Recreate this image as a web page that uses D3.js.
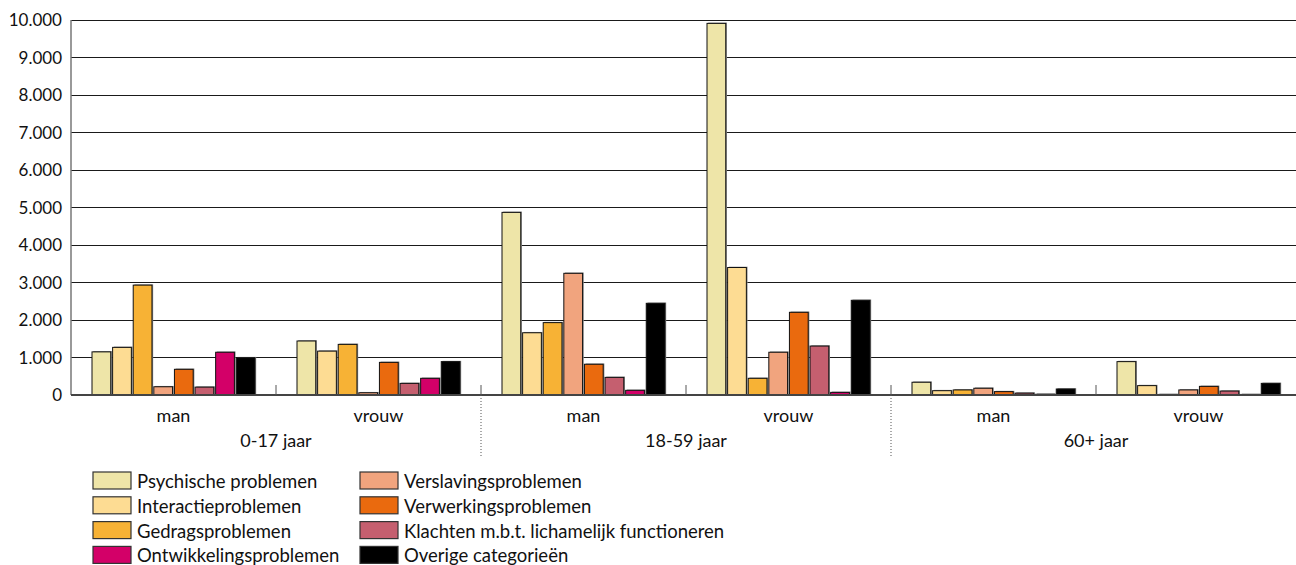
<!DOCTYPE html>
<html><head><meta charset="utf-8">
<script src="https://cdn.jsdelivr.net/npm/d3@7"></script>
<style>body{margin:0;background:#fff}svg{display:block}text{font-family:Lato,sans-serif;fill:#111}</style>
</head><body><svg id="c" width="1296" height="565"></svg>
<script>
const ageGroups = ["0-17 jaar","18-59 jaar","60+ jaar"];
const sexes = ["man","vrouw"];
const series = ["Psychische problemen","Interactieproblemen","Gedragsproblemen","Verslavingsproblemen","Verwerkingsproblemen","Klachten m.b.t. lichamelijk functioneren","Ontwikkelingsproblemen","Overige categorieën"];
const colors = ["#EEE5A8","#FDDC93","#F7B235","#F1A47E","#EA6A0E","#C55F6F","#D30068","#000000"];
const legendOrder = ["Psychische problemen","Interactieproblemen","Gedragsproblemen","Ontwikkelingsproblemen","Verslavingsproblemen","Verwerkingsproblemen","Klachten m.b.t. lichamelijk functioneren","Overige categorieën"];
// values per series, in order: 0-17 man, 0-17 vrouw, 18-59 man, 18-59 vrouw, 60+ man, 60+ vrouw
const psychische    = [1150, 1440, 4870, 9910, 340, 890];
const interactie    = [1270, 1170, 1660, 3400, 115, 250];
const gedrag        = [2930, 1350, 1930, 445, 135, 15];
const verslaving    = [220, 60, 3245, 1140, 180, 135];
const verwerking    = [685, 870, 820, 2205, 90, 230];
const klachten      = [210, 310, 470, 1305, 50, 105];
const ontwikkeling  = [1140, 445, 125, 70, 20, 15];
const overige       = [995, 890, 2445, 2525, 160, 310];
const yTicks = [0,1000,2000,3000,4000,5000,6000,7000,8000,9000,10000];
const yTickLabels = ["0","1.000","2.000","3.000","4.000","5.000","6.000","7.000","8.000","9.000","10.000"];

(function(){
const valuesBySeries = [psychische, interactie, gedrag, verslaving, verwerking, klachten, ontwikkeling, overige];
const subKeys = [];
ageGroups.forEach(a => sexes.forEach(s => subKeys.push(a + "|" + s)));
const color = d3.scaleOrdinal().domain(series).range(colors);

const svg = d3.select("#c");
const pL = 71, pR = 1301, pT = 20, base = 395;
const y = d3.scaleLinear().domain([0, 10000]).range([base, pT]);
const x0 = d3.scaleBand().domain(subKeys).range([pL, pR]).paddingInner(0).paddingOuter(0);
const x1 = d3.scaleBand().domain(series).range([21, x0.bandwidth() - 21]).paddingInner(0.09).paddingOuter(0);
const xAge = d3.scaleBand().domain(ageGroups).range([pL, pR]);

svg.append("g").selectAll("line").data(yTicks.filter(t => t > 0)).join("line")
  .attr("x1", pL).attr("x2", 1296).attr("y1", d => y(d)).attr("y2", d => y(d))
  .attr("stroke", "#1a1a1a").attr("stroke-width", 1).attr("shape-rendering","crispEdges");

svg.append("g").selectAll("text").data(yTicks).join("text")
  .attr("x", 62).attr("y", d => y(d)).attr("dy", "0.36em").attr("text-anchor", "end")
  .attr("font-size", 17).text((d, i) => yTickLabels[i]);

svg.append("line").attr("x1", pL).attr("x2", pL).attr("y1", pT).attr("y2", base)
  .attr("stroke", "#777").attr("stroke-width", 1.5);

const barData = [];
valuesBySeries.forEach((vals, si) => vals.forEach((v, gi) => barData.push({s: series[si], k: subKeys[gi], v})));
const bars = svg.append("g");
bars.selectAll("rect.sh").data(barData).join("rect").attr("class","sh")
  .attr("x", d => x0(d.k) + x1(d.s) + 1.2).attr("y", d => y(d.v) - 0.8)
  .attr("width", x1.bandwidth()).attr("height", d => base - y(d.v))
  .attr("fill", "#8a8a8a");
bars.selectAll("rect.b").data(barData).join("rect").attr("class","b")
  .attr("x", d => x0(d.k) + x1(d.s)).attr("y", d => y(d.v))
  .attr("width", x1.bandwidth()).attr("height", d => base - y(d.v))
  .attr("fill", d => color(d.s)).attr("stroke", "#111").attr("stroke-width", 1);

svg.append("line").attr("x1", pL).attr("x2", 1296).attr("y1", base).attr("y2", base)
  .attr("stroke", "#444").attr("stroke-width", 2);

const tickXs = subKeys.slice(1).map(k => x0(k));
svg.append("g").selectAll("line").data(tickXs).join("line")
  .attr("x1", d => d).attr("x2", d => d).attr("y1", base - 10).attr("y2", base)
  .attr("stroke", "#555").attr("stroke-width", 1);
svg.append("g").selectAll("line").data(ageGroups.slice(1)).join("line")
  .attr("x1", d => xAge(d)).attr("x2", d => xAge(d)).attr("y1", base).attr("y2", 456)
  .attr("stroke", "#555").attr("stroke-width", 1).attr("stroke-dasharray", "1,2");

svg.append("g").selectAll("text").data(subKeys).join("text")
  .attr("x", d => x0(d) + x0.bandwidth() / 2).attr("y", 422).attr("text-anchor", "middle")
  .attr("font-size", 18).text(d => d.split("|")[1]);
svg.append("g").selectAll("text").data(ageGroups).join("text")
  .attr("x", d => xAge(d) + xAge.bandwidth() / 2).attr("y", 447).attr("text-anchor", "middle")
  .attr("font-size", 18).text(d => d);

const leg = svg.append("g");
legendOrder.forEach((s, i) => {
  const col = Math.floor(i / 4), row = i % 4;
  const gx = col === 0 ? 93 : 360;
  const gy = 472 + row * 24.8;
  leg.append("rect").attr("x", gx).attr("y", gy).attr("width", 38).attr("height", 17)
    .attr("fill", color(s)).attr("stroke", "#333").attr("stroke-width", 1.2);
  leg.append("text").attr("x", gx + 44).attr("y", gy + 16)
    .attr("font-size", 18.5).text(s);
});
})();
</script></body></html>
